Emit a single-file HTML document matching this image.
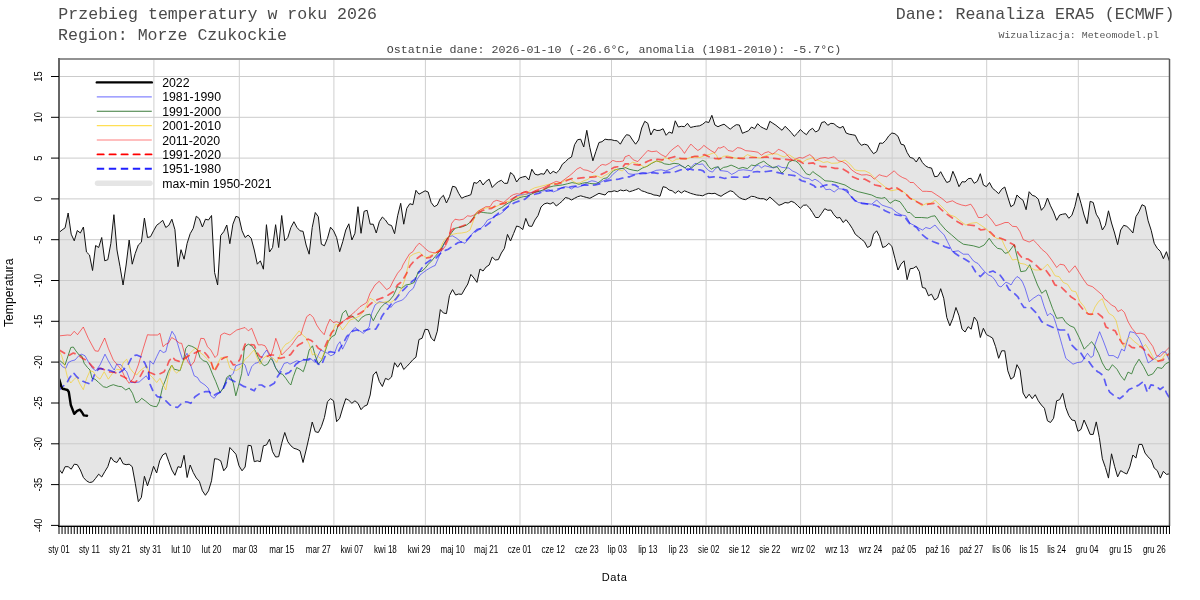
<!DOCTYPE html>
<html><head><meta charset="utf-8"><style>
html,body{margin:0;padding:0;background:#fff;width:1200px;height:600px;overflow:hidden}
svg{display:block;will-change:transform}
text{font-family:"Liberation Sans",sans-serif;fill:#000}
.ax{font-size:10.7px}
.xl{font-size:10.3px}
.lg{font-size:12.3px}
.at{font-size:11px}
.t1{font-family:"Liberation Mono",monospace;font-size:16.6px;fill:#4a4a4a}
.t2{font-family:"Liberation Mono",monospace;font-size:11.66px;fill:#444}
.t3{font-family:"Liberation Mono",monospace;font-size:9.92px;fill:#555}
</style></head><body>
<svg width="1200" height="600" viewBox="0 0 1200 600" fill="none">
<polygon points="59.00,232.5 62.05,230.0 65.10,227.8 68.15,213.0 71.20,234.2 74.25,240.8 77.30,230.5 80.36,233.0 83.41,227.0 86.46,252.0 89.51,255.0 92.56,270.5 95.61,245.5 98.66,247.5 101.71,237.5 104.76,260.8 107.81,259.7 110.86,243.3 113.91,214.7 116.97,250.0 120.02,266.7 123.07,285.0 126.12,265.0 129.17,240.0 132.22,264.2 135.27,253.3 138.32,245.0 141.37,242.2 144.42,218.0 147.47,237.5 150.52,236.7 153.57,230.8 156.63,225.3 159.68,223.0 162.73,220.3 165.78,227.5 168.83,225.3 171.88,219.2 174.93,229.7 177.98,266.7 181.03,249.7 184.08,259.2 187.13,243.3 190.18,233.7 193.24,228.3 196.29,216.2 199.34,218.7 202.39,227.0 205.44,219.2 208.49,220.0 211.54,215.5 214.59,272.5 217.64,285.0 220.69,235.5 223.74,231.7 226.79,225.0 229.84,243.7 232.90,224.2 235.95,216.3 239.00,217.5 242.05,230.8 245.10,237.5 248.15,235.0 251.20,238.3 254.25,250.0 257.30,264.2 260.35,260.8 263.40,269.2 266.45,224.7 269.51,252.0 272.56,247.5 275.61,224.7 278.66,247.5 281.71,215.5 284.76,240.8 287.81,237.5 290.86,227.5 293.91,221.7 296.96,227.5 300.01,230.8 303.06,231.3 306.11,245.0 309.17,254.2 312.22,227.5 315.27,212.5 318.32,216.7 321.37,244.2 324.42,245.8 327.47,238.3 330.52,227.2 333.57,230.8 336.62,237.5 339.67,251.7 342.72,241.7 345.78,230.0 348.83,223.8 351.88,240.0 354.93,233.3 357.98,206.7 361.03,233.3 364.08,211.3 367.13,210.3 370.18,224.2 373.23,224.2 376.28,233.0 379.33,221.7 382.38,217.0 385.44,220.0 388.49,224.5 391.54,225.5 394.59,233.7 397.64,215.8 400.69,203.3 403.74,224.2 406.79,208.3 409.84,203.7 412.89,204.7 415.94,190.3 418.99,194.2 422.05,192.5 425.10,190.8 428.15,192.0 431.20,202.5 434.25,206.7 437.30,205.0 440.35,198.3 443.40,195.3 446.45,203.0 449.50,196.7 452.55,186.3 455.60,187.0 458.65,193.3 461.71,198.3 464.76,196.7 467.81,195.8 470.86,194.7 473.91,182.5 476.96,183.3 480.01,180.0 483.06,185.0 486.11,181.3 489.16,179.2 492.21,187.5 495.26,184.2 498.32,181.7 501.37,180.3 504.42,183.3 507.47,183.3 510.52,172.5 513.57,175.0 516.62,182.0 519.67,178.0 522.72,177.0 525.77,176.3 528.82,180.0 531.87,169.2 534.92,174.2 537.98,175.0 541.03,173.7 544.08,174.2 547.13,169.2 550.18,173.8 553.23,171.3 556.28,173.0 559.33,170.0 562.38,164.2 565.43,161.7 568.48,158.7 571.53,157.0 574.59,144.7 577.64,139.7 580.69,139.2 583.74,147.0 586.79,130.3 589.84,147.5 592.89,160.8 595.94,151.3 598.99,142.5 602.04,141.7 605.09,139.2 608.14,139.7 611.19,139.7 614.25,140.5 617.30,140.8 620.35,144.2 623.40,138.7 626.45,134.7 629.50,135.3 632.55,140.0 635.60,144.2 638.65,140.0 641.70,128.0 644.75,121.3 647.80,123.3 650.86,135.0 653.91,129.2 656.96,130.5 660.01,130.3 663.06,128.7 666.11,135.3 669.16,132.0 672.21,133.3 675.26,120.8 678.31,127.0 681.36,126.3 684.41,126.7 687.46,123.3 690.52,127.5 693.57,126.7 696.62,126.2 699.67,125.8 702.72,124.2 705.77,121.7 708.82,122.5 711.87,115.3 714.92,125.0 717.97,126.7 721.02,125.3 724.07,124.2 727.13,126.7 730.18,129.2 733.23,126.7 736.28,124.7 739.33,125.0 742.38,133.3 745.43,132.0 748.48,130.8 751.53,127.0 754.58,128.7 757.63,123.7 760.68,126.7 763.73,128.3 766.79,129.7 769.84,121.3 772.89,123.3 775.94,125.3 778.99,127.8 782.04,130.3 785.09,126.3 788.14,129.2 791.19,132.5 794.24,136.3 797.29,133.3 800.34,129.5 803.40,132.5 806.45,134.7 809.50,130.3 812.55,128.3 815.60,132.0 818.65,130.3 821.70,122.5 824.75,121.7 827.80,125.3 830.85,123.3 833.90,123.7 836.95,126.3 840.00,128.0 843.06,126.3 846.11,133.0 849.16,134.2 852.21,134.7 855.26,135.3 858.31,141.7 861.36,145.3 864.41,144.2 867.46,145.0 870.51,149.7 873.56,153.7 876.61,151.7 879.67,143.0 882.72,143.3 885.77,140.3 888.82,135.8 891.87,133.0 894.92,133.7 897.97,136.3 901.02,144.2 904.07,145.0 907.12,152.5 910.17,157.5 913.22,158.3 916.27,162.0 919.33,157.0 922.38,162.5 925.43,165.8 928.48,167.5 931.53,168.0 934.58,176.7 937.63,176.3 940.68,171.7 943.73,177.5 946.78,182.5 949.83,181.3 952.88,171.3 955.94,178.3 958.99,186.7 962.04,181.7 965.09,182.0 968.14,178.7 971.19,178.3 974.24,183.3 977.29,181.3 980.34,173.7 983.39,185.0 986.44,186.7 989.49,182.5 992.54,188.3 995.60,190.8 998.65,193.7 1001.70,189.2 1004.75,187.0 1007.80,197.0 1010.85,206.7 1013.90,204.7 1016.95,195.0 1020.00,198.0 1023.05,200.3 1026.10,209.7 1029.15,191.7 1032.21,195.3 1035.26,196.3 1038.31,199.2 1041.36,210.3 1044.41,206.7 1047.46,198.0 1050.51,205.8 1053.56,212.0 1056.61,220.3 1059.66,215.0 1062.71,214.2 1065.76,213.7 1068.81,218.3 1071.87,215.3 1074.92,206.3 1077.97,193.0 1081.02,203.3 1084.07,215.0 1087.12,223.7 1090.17,201.3 1093.22,202.5 1096.27,214.2 1099.32,219.2 1102.37,230.0 1105.42,225.3 1108.48,210.8 1111.53,223.0 1114.58,233.0 1117.63,244.7 1120.68,230.0 1123.73,225.3 1126.78,226.3 1129.83,229.2 1132.88,233.0 1135.93,216.7 1138.98,211.7 1142.03,204.7 1145.08,206.3 1148.14,220.8 1151.19,230.3 1154.24,243.3 1157.29,248.3 1160.34,251.3 1163.39,258.7 1166.44,251.7 1169.49,261.3 1169.49,473.8 1166.44,474.4 1163.39,471.3 1160.34,478.1 1157.29,470.6 1154.24,468.1 1151.19,460.0 1148.14,456.9 1145.08,453.1 1142.03,444.4 1138.98,444.4 1135.93,458.1 1132.88,455.0 1129.83,466.9 1126.78,474.0 1123.73,472.5 1120.68,470.6 1117.63,476.9 1114.58,466.3 1111.53,453.8 1108.48,478.1 1105.42,467.5 1102.37,458.8 1099.32,437.5 1096.27,421.9 1093.22,434.4 1090.17,434.4 1087.12,426.9 1084.07,420.0 1081.02,429.4 1077.97,431.3 1074.92,420.6 1071.87,420.0 1068.81,415.6 1065.76,407.5 1062.71,393.3 1059.66,399.7 1056.61,400.8 1053.56,418.3 1050.51,422.5 1047.46,420.8 1044.41,408.3 1041.36,405.0 1038.31,400.8 1035.26,394.7 1032.21,398.7 1029.15,394.2 1026.10,398.3 1023.05,393.0 1020.00,370.0 1016.95,364.7 1013.90,377.0 1010.85,379.2 1007.80,370.8 1004.75,350.8 1001.70,350.8 998.65,358.3 995.60,346.7 992.54,338.0 989.49,336.3 986.44,334.7 983.39,328.3 980.34,337.5 977.29,321.3 974.24,317.0 971.19,329.2 968.14,326.7 965.09,332.0 962.04,329.2 958.99,315.8 955.94,307.5 952.88,318.3 949.83,325.8 946.78,317.5 943.73,298.3 940.68,288.7 937.63,298.0 934.58,300.0 931.53,294.2 928.48,295.8 925.43,288.3 922.38,287.5 919.33,271.7 916.27,266.3 913.22,268.3 910.17,268.7 907.12,279.7 904.07,260.8 901.02,264.2 897.97,270.0 894.92,258.3 891.87,246.3 888.82,243.3 885.77,246.3 882.72,247.5 879.67,236.7 876.61,230.8 873.56,234.2 870.51,245.8 867.46,247.5 864.41,241.7 861.36,239.2 858.31,236.7 855.26,234.2 852.21,228.3 849.16,223.7 846.11,219.7 843.06,222.5 840.00,217.5 836.95,218.0 833.90,214.7 830.85,210.0 827.80,210.3 824.75,208.7 821.70,213.3 818.65,217.5 815.60,217.5 812.55,212.5 809.50,208.0 806.45,205.0 803.40,205.3 800.34,208.3 797.29,205.3 794.24,202.5 791.19,201.3 788.14,203.0 785.09,202.5 782.04,204.2 778.99,205.3 775.94,202.5 772.89,199.7 769.84,197.0 766.79,200.3 763.73,198.7 760.68,198.7 757.63,198.0 754.58,196.7 751.53,196.3 748.48,198.0 745.43,199.7 742.38,199.0 739.33,197.5 736.28,195.0 733.23,191.7 730.18,190.8 727.13,192.5 724.07,194.2 721.02,196.3 717.97,195.0 714.92,193.3 711.87,193.7 708.82,193.3 705.77,194.2 702.72,195.8 699.67,195.3 696.62,195.0 693.57,194.2 690.52,193.3 687.46,192.0 684.41,190.8 681.36,193.0 678.31,190.8 675.26,193.3 672.21,190.8 669.16,190.0 666.11,187.5 663.06,186.7 660.01,196.3 656.96,195.3 653.91,195.0 650.86,193.7 647.80,193.0 644.75,191.7 641.70,190.8 638.65,188.5 635.60,189.7 632.55,190.8 629.50,191.7 626.45,190.0 623.40,190.8 620.35,190.0 617.30,191.7 614.25,190.8 611.19,191.7 608.14,191.7 605.09,195.0 602.04,194.2 598.99,193.3 595.94,195.0 592.89,196.7 589.84,198.3 586.79,197.5 583.74,196.7 580.69,195.8 577.64,196.7 574.59,198.3 571.53,200.0 568.48,198.3 565.43,197.5 562.38,201.0 559.33,203.6 556.28,206.0 553.23,202.4 550.18,204.0 547.13,203.0 544.08,204.0 541.03,207.0 537.98,215.6 534.92,220.0 531.87,226.4 528.82,226.0 525.77,218.4 522.72,229.6 519.67,227.0 516.62,226.0 513.57,233.6 510.52,241.0 507.47,234.4 504.42,248.4 501.37,253.0 498.32,259.6 495.26,260.0 492.21,257.0 489.16,265.0 486.11,267.0 483.06,271.0 480.01,269.0 476.96,282.4 473.91,278.0 470.86,274.4 467.81,284.0 464.76,289.0 461.71,294.4 458.65,294.0 455.60,295.0 452.55,289.6 449.50,295.5 446.45,313.6 443.40,313.0 440.35,309.6 437.30,331.2 434.25,341.0 431.20,338.0 428.15,329.7 425.10,329.3 422.05,338.3 418.99,339.5 415.94,357.2 412.89,359.7 409.84,363.2 406.79,366.5 403.74,369.5 400.69,362.7 397.64,367.2 394.59,362.7 391.54,377.0 388.49,379.7 385.44,378.4 382.38,386.5 379.33,381.5 376.28,371.7 373.23,375.0 370.18,395.0 367.13,405.0 364.08,406.3 361.03,409.7 357.98,403.3 354.93,400.8 351.88,403.3 348.83,400.3 345.78,398.7 342.72,408.0 339.67,418.3 336.62,421.7 333.57,400.8 330.52,398.7 327.47,401.7 324.42,417.5 321.37,426.7 318.32,432.5 315.27,431.7 312.22,422.0 309.17,436.7 306.11,450.0 303.06,462.5 300.01,450.8 296.96,449.2 293.91,448.3 290.86,445.8 287.81,441.7 284.76,432.5 281.71,443.3 278.66,456.7 275.61,457.0 272.56,451.7 269.51,439.2 266.45,445.0 263.40,445.8 260.35,461.7 257.30,460.8 254.25,461.7 251.20,445.8 248.15,445.3 245.10,467.0 242.05,470.8 239.00,465.8 235.95,454.2 232.90,450.8 229.84,447.5 226.79,467.0 223.74,470.8 220.69,460.8 217.64,459.2 214.59,458.7 211.54,480.8 208.49,490.8 205.44,495.3 202.39,490.8 199.34,481.3 196.29,478.0 193.24,472.5 190.18,465.0 187.13,477.5 184.08,455.3 181.03,467.5 177.98,466.7 174.93,475.3 171.88,470.0 168.83,461.7 165.78,453.0 162.73,455.0 159.68,460.8 156.63,473.0 153.57,466.3 150.52,476.7 147.47,485.8 144.42,476.3 141.37,497.5 138.32,501.7 135.27,483.3 132.22,466.7 129.17,464.2 126.12,464.7 123.07,463.7 120.02,457.5 116.97,462.5 113.91,461.3 110.86,457.2 107.81,466.7 104.76,471.7 101.71,477.0 98.66,474.2 95.61,478.3 92.56,482.0 89.51,482.5 86.46,480.8 83.41,477.5 80.36,470.0 77.30,464.7 74.25,464.2 71.20,469.2 68.15,466.7 65.10,466.7 62.05,473.3 59.00,469.2" fill="#e5e5e5" stroke="none"/>
<line x1="59" y1="76.5" x2="1169.5" y2="76.5" stroke="#cbcbcb" stroke-width="1"/>
<line x1="59" y1="117.3" x2="1169.5" y2="117.3" stroke="#cbcbcb" stroke-width="1"/>
<line x1="59" y1="158.1" x2="1169.5" y2="158.1" stroke="#cbcbcb" stroke-width="1"/>
<line x1="59" y1="198.9" x2="1169.5" y2="198.9" stroke="#cbcbcb" stroke-width="1"/>
<line x1="59" y1="239.7" x2="1169.5" y2="239.7" stroke="#cbcbcb" stroke-width="1"/>
<line x1="59" y1="280.5" x2="1169.5" y2="280.5" stroke="#cbcbcb" stroke-width="1"/>
<line x1="59" y1="321.3" x2="1169.5" y2="321.3" stroke="#cbcbcb" stroke-width="1"/>
<line x1="59" y1="362.1" x2="1169.5" y2="362.1" stroke="#cbcbcb" stroke-width="1"/>
<line x1="59" y1="403.0" x2="1169.5" y2="403.0" stroke="#cbcbcb" stroke-width="1"/>
<line x1="59" y1="443.8" x2="1169.5" y2="443.8" stroke="#cbcbcb" stroke-width="1"/>
<line x1="59" y1="484.6" x2="1169.5" y2="484.6" stroke="#cbcbcb" stroke-width="1"/>
<line x1="59" y1="525.4" x2="1169.5" y2="525.4" stroke="#cbcbcb" stroke-width="1"/>
<line x1="153.9" y1="59" x2="153.9" y2="526" stroke="#cfcfcf" stroke-width="1"/>
<line x1="239.3" y1="59" x2="239.3" y2="526" stroke="#cfcfcf" stroke-width="1"/>
<line x1="333.9" y1="59" x2="333.9" y2="526" stroke="#cfcfcf" stroke-width="1"/>
<line x1="425.4" y1="59" x2="425.4" y2="526" stroke="#cfcfcf" stroke-width="1"/>
<line x1="520.0" y1="59" x2="520.0" y2="526" stroke="#cfcfcf" stroke-width="1"/>
<line x1="611.5" y1="59" x2="611.5" y2="526" stroke="#cfcfcf" stroke-width="1"/>
<line x1="706.1" y1="59" x2="706.1" y2="526" stroke="#cfcfcf" stroke-width="1"/>
<line x1="800.6" y1="59" x2="800.6" y2="526" stroke="#cfcfcf" stroke-width="1"/>
<line x1="892.2" y1="59" x2="892.2" y2="526" stroke="#cfcfcf" stroke-width="1"/>
<line x1="986.7" y1="59" x2="986.7" y2="526" stroke="#cfcfcf" stroke-width="1"/>
<line x1="1078.3" y1="59" x2="1078.3" y2="526" stroke="#cfcfcf" stroke-width="1"/>
<polyline points="59.00,232.5 62.05,230.0 65.10,227.8 68.15,213.0 71.20,234.2 74.25,240.8 77.30,230.5 80.36,233.0 83.41,227.0 86.46,252.0 89.51,255.0 92.56,270.5 95.61,245.5 98.66,247.5 101.71,237.5 104.76,260.8 107.81,259.7 110.86,243.3 113.91,214.7 116.97,250.0 120.02,266.7 123.07,285.0 126.12,265.0 129.17,240.0 132.22,264.2 135.27,253.3 138.32,245.0 141.37,242.2 144.42,218.0 147.47,237.5 150.52,236.7 153.57,230.8 156.63,225.3 159.68,223.0 162.73,220.3 165.78,227.5 168.83,225.3 171.88,219.2 174.93,229.7 177.98,266.7 181.03,249.7 184.08,259.2 187.13,243.3 190.18,233.7 193.24,228.3 196.29,216.2 199.34,218.7 202.39,227.0 205.44,219.2 208.49,220.0 211.54,215.5 214.59,272.5 217.64,285.0 220.69,235.5 223.74,231.7 226.79,225.0 229.84,243.7 232.90,224.2 235.95,216.3 239.00,217.5 242.05,230.8 245.10,237.5 248.15,235.0 251.20,238.3 254.25,250.0 257.30,264.2 260.35,260.8 263.40,269.2 266.45,224.7 269.51,252.0 272.56,247.5 275.61,224.7 278.66,247.5 281.71,215.5 284.76,240.8 287.81,237.5 290.86,227.5 293.91,221.7 296.96,227.5 300.01,230.8 303.06,231.3 306.11,245.0 309.17,254.2 312.22,227.5 315.27,212.5 318.32,216.7 321.37,244.2 324.42,245.8 327.47,238.3 330.52,227.2 333.57,230.8 336.62,237.5 339.67,251.7 342.72,241.7 345.78,230.0 348.83,223.8 351.88,240.0 354.93,233.3 357.98,206.7 361.03,233.3 364.08,211.3 367.13,210.3 370.18,224.2 373.23,224.2 376.28,233.0 379.33,221.7 382.38,217.0 385.44,220.0 388.49,224.5 391.54,225.5 394.59,233.7 397.64,215.8 400.69,203.3 403.74,224.2 406.79,208.3 409.84,203.7 412.89,204.7 415.94,190.3 418.99,194.2 422.05,192.5 425.10,190.8 428.15,192.0 431.20,202.5 434.25,206.7 437.30,205.0 440.35,198.3 443.40,195.3 446.45,203.0 449.50,196.7 452.55,186.3 455.60,187.0 458.65,193.3 461.71,198.3 464.76,196.7 467.81,195.8 470.86,194.7 473.91,182.5 476.96,183.3 480.01,180.0 483.06,185.0 486.11,181.3 489.16,179.2 492.21,187.5 495.26,184.2 498.32,181.7 501.37,180.3 504.42,183.3 507.47,183.3 510.52,172.5 513.57,175.0 516.62,182.0 519.67,178.0 522.72,177.0 525.77,176.3 528.82,180.0 531.87,169.2 534.92,174.2 537.98,175.0 541.03,173.7 544.08,174.2 547.13,169.2 550.18,173.8 553.23,171.3 556.28,173.0 559.33,170.0 562.38,164.2 565.43,161.7 568.48,158.7 571.53,157.0 574.59,144.7 577.64,139.7 580.69,139.2 583.74,147.0 586.79,130.3 589.84,147.5 592.89,160.8 595.94,151.3 598.99,142.5 602.04,141.7 605.09,139.2 608.14,139.7 611.19,139.7 614.25,140.5 617.30,140.8 620.35,144.2 623.40,138.7 626.45,134.7 629.50,135.3 632.55,140.0 635.60,144.2 638.65,140.0 641.70,128.0 644.75,121.3 647.80,123.3 650.86,135.0 653.91,129.2 656.96,130.5 660.01,130.3 663.06,128.7 666.11,135.3 669.16,132.0 672.21,133.3 675.26,120.8 678.31,127.0 681.36,126.3 684.41,126.7 687.46,123.3 690.52,127.5 693.57,126.7 696.62,126.2 699.67,125.8 702.72,124.2 705.77,121.7 708.82,122.5 711.87,115.3 714.92,125.0 717.97,126.7 721.02,125.3 724.07,124.2 727.13,126.7 730.18,129.2 733.23,126.7 736.28,124.7 739.33,125.0 742.38,133.3 745.43,132.0 748.48,130.8 751.53,127.0 754.58,128.7 757.63,123.7 760.68,126.7 763.73,128.3 766.79,129.7 769.84,121.3 772.89,123.3 775.94,125.3 778.99,127.8 782.04,130.3 785.09,126.3 788.14,129.2 791.19,132.5 794.24,136.3 797.29,133.3 800.34,129.5 803.40,132.5 806.45,134.7 809.50,130.3 812.55,128.3 815.60,132.0 818.65,130.3 821.70,122.5 824.75,121.7 827.80,125.3 830.85,123.3 833.90,123.7 836.95,126.3 840.00,128.0 843.06,126.3 846.11,133.0 849.16,134.2 852.21,134.7 855.26,135.3 858.31,141.7 861.36,145.3 864.41,144.2 867.46,145.0 870.51,149.7 873.56,153.7 876.61,151.7 879.67,143.0 882.72,143.3 885.77,140.3 888.82,135.8 891.87,133.0 894.92,133.7 897.97,136.3 901.02,144.2 904.07,145.0 907.12,152.5 910.17,157.5 913.22,158.3 916.27,162.0 919.33,157.0 922.38,162.5 925.43,165.8 928.48,167.5 931.53,168.0 934.58,176.7 937.63,176.3 940.68,171.7 943.73,177.5 946.78,182.5 949.83,181.3 952.88,171.3 955.94,178.3 958.99,186.7 962.04,181.7 965.09,182.0 968.14,178.7 971.19,178.3 974.24,183.3 977.29,181.3 980.34,173.7 983.39,185.0 986.44,186.7 989.49,182.5 992.54,188.3 995.60,190.8 998.65,193.7 1001.70,189.2 1004.75,187.0 1007.80,197.0 1010.85,206.7 1013.90,204.7 1016.95,195.0 1020.00,198.0 1023.05,200.3 1026.10,209.7 1029.15,191.7 1032.21,195.3 1035.26,196.3 1038.31,199.2 1041.36,210.3 1044.41,206.7 1047.46,198.0 1050.51,205.8 1053.56,212.0 1056.61,220.3 1059.66,215.0 1062.71,214.2 1065.76,213.7 1068.81,218.3 1071.87,215.3 1074.92,206.3 1077.97,193.0 1081.02,203.3 1084.07,215.0 1087.12,223.7 1090.17,201.3 1093.22,202.5 1096.27,214.2 1099.32,219.2 1102.37,230.0 1105.42,225.3 1108.48,210.8 1111.53,223.0 1114.58,233.0 1117.63,244.7 1120.68,230.0 1123.73,225.3 1126.78,226.3 1129.83,229.2 1132.88,233.0 1135.93,216.7 1138.98,211.7 1142.03,204.7 1145.08,206.3 1148.14,220.8 1151.19,230.3 1154.24,243.3 1157.29,248.3 1160.34,251.3 1163.39,258.7 1166.44,251.7 1169.49,261.3" stroke="#111" stroke-width="1" stroke-linejoin="round"/>
<polyline points="59.00,469.2 62.05,473.3 65.10,466.7 68.15,466.7 71.20,469.2 74.25,464.2 77.30,464.7 80.36,470.0 83.41,477.5 86.46,480.8 89.51,482.5 92.56,482.0 95.61,478.3 98.66,474.2 101.71,477.0 104.76,471.7 107.81,466.7 110.86,457.2 113.91,461.3 116.97,462.5 120.02,457.5 123.07,463.7 126.12,464.7 129.17,464.2 132.22,466.7 135.27,483.3 138.32,501.7 141.37,497.5 144.42,476.3 147.47,485.8 150.52,476.7 153.57,466.3 156.63,473.0 159.68,460.8 162.73,455.0 165.78,453.0 168.83,461.7 171.88,470.0 174.93,475.3 177.98,466.7 181.03,467.5 184.08,455.3 187.13,477.5 190.18,465.0 193.24,472.5 196.29,478.0 199.34,481.3 202.39,490.8 205.44,495.3 208.49,490.8 211.54,480.8 214.59,458.7 217.64,459.2 220.69,460.8 223.74,470.8 226.79,467.0 229.84,447.5 232.90,450.8 235.95,454.2 239.00,465.8 242.05,470.8 245.10,467.0 248.15,445.3 251.20,445.8 254.25,461.7 257.30,460.8 260.35,461.7 263.40,445.8 266.45,445.0 269.51,439.2 272.56,451.7 275.61,457.0 278.66,456.7 281.71,443.3 284.76,432.5 287.81,441.7 290.86,445.8 293.91,448.3 296.96,449.2 300.01,450.8 303.06,462.5 306.11,450.0 309.17,436.7 312.22,422.0 315.27,431.7 318.32,432.5 321.37,426.7 324.42,417.5 327.47,401.7 330.52,398.7 333.57,400.8 336.62,421.7 339.67,418.3 342.72,408.0 345.78,398.7 348.83,400.3 351.88,403.3 354.93,400.8 357.98,403.3 361.03,409.7 364.08,406.3 367.13,405.0 370.18,395.0 373.23,375.0 376.28,371.7 379.33,381.5 382.38,386.5 385.44,378.4 388.49,379.7 391.54,377.0 394.59,362.7 397.64,367.2 400.69,362.7 403.74,369.5 406.79,366.5 409.84,363.2 412.89,359.7 415.94,357.2 418.99,339.5 422.05,338.3 425.10,329.3 428.15,329.7 431.20,338.0 434.25,341.0 437.30,331.2 440.35,309.6 443.40,313.0 446.45,313.6 449.50,295.5 452.55,289.6 455.60,295.0 458.65,294.0 461.71,294.4 464.76,289.0 467.81,284.0 470.86,274.4 473.91,278.0 476.96,282.4 480.01,269.0 483.06,271.0 486.11,267.0 489.16,265.0 492.21,257.0 495.26,260.0 498.32,259.6 501.37,253.0 504.42,248.4 507.47,234.4 510.52,241.0 513.57,233.6 516.62,226.0 519.67,227.0 522.72,229.6 525.77,218.4 528.82,226.0 531.87,226.4 534.92,220.0 537.98,215.6 541.03,207.0 544.08,204.0 547.13,203.0 550.18,204.0 553.23,202.4 556.28,206.0 559.33,203.6 562.38,201.0 565.43,197.5 568.48,198.3 571.53,200.0 574.59,198.3 577.64,196.7 580.69,195.8 583.74,196.7 586.79,197.5 589.84,198.3 592.89,196.7 595.94,195.0 598.99,193.3 602.04,194.2 605.09,195.0 608.14,191.7 611.19,191.7 614.25,190.8 617.30,191.7 620.35,190.0 623.40,190.8 626.45,190.0 629.50,191.7 632.55,190.8 635.60,189.7 638.65,188.5 641.70,190.8 644.75,191.7 647.80,193.0 650.86,193.7 653.91,195.0 656.96,195.3 660.01,196.3 663.06,186.7 666.11,187.5 669.16,190.0 672.21,190.8 675.26,193.3 678.31,190.8 681.36,193.0 684.41,190.8 687.46,192.0 690.52,193.3 693.57,194.2 696.62,195.0 699.67,195.3 702.72,195.8 705.77,194.2 708.82,193.3 711.87,193.7 714.92,193.3 717.97,195.0 721.02,196.3 724.07,194.2 727.13,192.5 730.18,190.8 733.23,191.7 736.28,195.0 739.33,197.5 742.38,199.0 745.43,199.7 748.48,198.0 751.53,196.3 754.58,196.7 757.63,198.0 760.68,198.7 763.73,198.7 766.79,200.3 769.84,197.0 772.89,199.7 775.94,202.5 778.99,205.3 782.04,204.2 785.09,202.5 788.14,203.0 791.19,201.3 794.24,202.5 797.29,205.3 800.34,208.3 803.40,205.3 806.45,205.0 809.50,208.0 812.55,212.5 815.60,217.5 818.65,217.5 821.70,213.3 824.75,208.7 827.80,210.3 830.85,210.0 833.90,214.7 836.95,218.0 840.00,217.5 843.06,222.5 846.11,219.7 849.16,223.7 852.21,228.3 855.26,234.2 858.31,236.7 861.36,239.2 864.41,241.7 867.46,247.5 870.51,245.8 873.56,234.2 876.61,230.8 879.67,236.7 882.72,247.5 885.77,246.3 888.82,243.3 891.87,246.3 894.92,258.3 897.97,270.0 901.02,264.2 904.07,260.8 907.12,279.7 910.17,268.7 913.22,268.3 916.27,266.3 919.33,271.7 922.38,287.5 925.43,288.3 928.48,295.8 931.53,294.2 934.58,300.0 937.63,298.0 940.68,288.7 943.73,298.3 946.78,317.5 949.83,325.8 952.88,318.3 955.94,307.5 958.99,315.8 962.04,329.2 965.09,332.0 968.14,326.7 971.19,329.2 974.24,317.0 977.29,321.3 980.34,337.5 983.39,328.3 986.44,334.7 989.49,336.3 992.54,338.0 995.60,346.7 998.65,358.3 1001.70,350.8 1004.75,350.8 1007.80,370.8 1010.85,379.2 1013.90,377.0 1016.95,364.7 1020.00,370.0 1023.05,393.0 1026.10,398.3 1029.15,394.2 1032.21,398.7 1035.26,394.7 1038.31,400.8 1041.36,405.0 1044.41,408.3 1047.46,420.8 1050.51,422.5 1053.56,418.3 1056.61,400.8 1059.66,399.7 1062.71,393.3 1065.76,407.5 1068.81,415.6 1071.87,420.0 1074.92,420.6 1077.97,431.3 1081.02,429.4 1084.07,420.0 1087.12,426.9 1090.17,434.4 1093.22,434.4 1096.27,421.9 1099.32,437.5 1102.37,458.8 1105.42,467.5 1108.48,478.1 1111.53,453.8 1114.58,466.3 1117.63,476.9 1120.68,470.6 1123.73,472.5 1126.78,474.0 1129.83,466.9 1132.88,455.0 1135.93,458.1 1138.98,444.4 1142.03,444.4 1145.08,453.1 1148.14,456.9 1151.19,460.0 1154.24,468.1 1157.29,470.6 1160.34,478.1 1163.39,471.3 1166.44,474.4 1169.49,473.8" stroke="#111" stroke-width="1" stroke-linejoin="round"/>
<polyline points="59.2,362.5 62.5,366.7 65.8,368.3 68.3,362.5 71.7,360.8 75.0,360.0 79.2,355.3 81.7,354.2 85.0,355.8 88.3,361.7 92.5,368.3 95.8,370.8 100.0,365.0 105.0,354.2 108.3,360.8 111.7,366.7 114.2,370.0 116.7,364.2 120.8,364.7 124.2,369.2 126.7,371.7 130.8,382.5 135.0,382.5 139.2,382.0 143.3,378.3 146.3,375.8 148.7,380.0 150.0,360.8 153.3,364.2 156.7,356.7 160.0,350.0 163.3,352.5 165.8,351.7 168.3,341.7 172.0,331.3 175.0,335.8 177.5,343.3 180.0,351.7 182.5,359.2 184.2,358.3 187.0,353.3 189.2,360.8 191.7,368.3 194.2,375.8 197.5,377.5 200.0,381.7 205.0,385.0 208.3,388.3 210.8,395.8 214.2,398.3 216.7,395.0 220.0,392.5 223.3,387.5 227.5,378.3 230.8,375.8 233.3,373.3 235.8,365.8 240.0,364.2 243.3,363.3 245.0,365.0 248.3,375.8 251.7,366.7 255.0,363.3 258.3,362.5 261.7,357.5 264.2,353.3 266.7,350.0 269.2,355.0 271.7,357.5 275.0,366.7 278.3,371.7 280.8,370.0 284.2,363.3 287.5,362.5 290.0,364.2 293.3,362.5 296.7,360.8 300.0,361.7 303.3,360.0 306.7,359.2 310.0,358.3 312.5,360.0 315.0,362.5 318.3,355.0 320.8,350.0 324.2,351.7 327.5,353.3 330.8,355.8 334.2,354.2 337.5,345.0 340.0,341.7 342.5,349.2 346.7,340.8 350.0,333.3 355.0,327.5 358.3,330.0 363.3,333.3 366.7,330.0 369.2,326.7 371.7,313.3 375.0,305.0 379.2,301.7 383.3,302.5 387.5,304.2 390.8,307.5 394.2,303.3 397.5,301.7 402.5,300.0 405.8,296.7 409.2,291.7 413.3,288.3 416.7,280.0 420.0,275.0 423.3,272.5 426.7,270.0 430.8,267.5 434.2,265.8 435.0,265.8 438.3,258.3 441.7,250.0 445.0,241.7 448.3,236.7 452.5,235.8 456.7,238.3 460.8,241.7 465.0,243.3 468.3,239.2 472.5,233.3 476.7,229.2 480.8,228.3 484.2,225.0 487.5,220.0 491.7,218.3 495.8,215.8 500.0,214.2 503.3,211.7 506.7,208.3 510.0,203.3 513.3,198.3 516.7,195.8 520.0,195.0 523.3,194.7 526.7,194.2 530.0,193.1 534.7,191.9 539.3,191.3 544.0,190.8 548.7,189.6 553.3,191.9 558.0,190.2 561.5,187.8 565.0,186.7 568.5,187.3 571.4,189.0 574.9,186.7 577.8,187.3 581.3,186.1 584.8,184.3 588.3,182.0 591.8,180.8 595.3,181.4 598.8,183.2 602.3,181.4 605.8,179.7 609.3,178.5 612.8,174.4 616.3,171.5 619.8,168.6 623.3,168.6 625.0,169.8 628.5,173.8 633.2,174.4 637.8,173.8 642.5,172.7 647.2,173.3 651.8,172.1 656.5,170.3 661.2,169.8 665.8,170.9 670.5,169.2 675.2,166.8 679.8,165.1 683.9,166.8 688.0,170.9 692.1,166.3 695.0,163.3 699.1,164.5 702.6,163.9 705.5,167.4 709.0,170.9 712.5,172.1 715.4,168.6 718.3,166.8 720.0,170.6 723.5,170.9 727.6,171.5 731.7,174.4 735.2,172.7 738.7,170.3 743.3,169.8 748.0,170.3 751.5,170.9 755.0,166.3 758.5,165.1 761.4,167.8 764.9,165.7 769.0,166.8 773.7,168.0 778.3,165.7 781.8,167.4 785.3,167.8 788.8,168.0 792.3,170.9 796.4,172.7 800.5,175.6 804.0,177.9 808.7,178.5 812.2,180.8 815.0,179.2 819.2,181.7 822.5,185.0 825.8,189.7 830.0,189.2 834.2,192.0 838.3,188.7 843.3,189.2 848.3,193.3 852.5,198.3 858.3,202.5 865.0,203.3 871.7,204.2 876.7,200.0 881.7,205.0 886.7,206.7 891.7,208.3 896.7,212.5 901.7,215.0 905.8,215.8 910.0,223.3 915.0,225.8 919.2,228.3 922.5,230.0 925.8,227.5 930.0,228.7 935.0,225.0 939.2,230.0 944.2,235.0 947.5,241.7 952.5,251.7 958.3,250.8 963.3,254.2 968.3,254.2 973.3,260.8 975.0,262.0 978.0,263.5 981.5,268.0 985.0,272.0 988.5,275.0 992.0,276.5 995.0,280.0 998.5,286.0 1001.0,287.0 1004.0,284.0 1006.0,282.2 1009.0,283.5 1011.0,285.0 1014.0,280.0 1017.0,276.5 1020.0,278.5 1022.5,282.0 1025.0,288.0 1029.2,301.7 1033.3,298.3 1038.3,295.0 1040.8,295.8 1044.2,306.7 1047.5,315.8 1050.0,313.3 1053.3,315.8 1055.8,323.3 1059.2,335.0 1062.5,346.7 1065.8,358.3 1070.0,361.7 1073.0,364.2 1077.5,362.5 1081.7,362.0 1084.2,358.3 1087.5,353.3 1090.8,357.5 1093.3,355.8 1095.0,344.5 1099.6,331.7 1103.3,340.9 1108.8,355.6 1113.3,355.6 1117.9,358.3 1121.6,349.1 1124.4,351.0 1129.9,331.7 1134.4,332.6 1139.0,338.1 1142.7,346.4 1148.2,362.9 1153.7,359.2 1157.4,356.5 1162.0,351.9 1165.6,351.9 1169.3,360.1" stroke="#0000ff" stroke-opacity="0.5" stroke-width="1" stroke-linejoin="round"/>
<polyline points="59.2,360.0 65.0,365.0 70.8,347.5 73.3,347.0 75.8,350.8 79.2,355.0 81.7,355.8 84.2,363.3 87.5,367.5 90.0,370.0 92.0,378.3 95.0,379.2 98.7,382.5 103.3,386.7 106.7,387.5 110.0,385.8 113.3,384.7 118.3,386.3 121.7,386.7 125.8,390.0 129.2,388.0 132.5,393.3 135.8,402.5 138.3,402.0 141.7,398.3 145.8,401.3 149.2,404.2 150.0,405.0 153.3,406.3 156.7,406.7 159.2,401.7 160.8,395.0 162.5,387.5 165.8,379.2 168.3,371.7 171.7,365.0 174.2,369.2 177.5,370.0 180.0,370.8 183.3,360.8 185.8,348.3 188.3,345.3 191.7,346.3 194.2,347.5 197.5,350.0 200.0,357.5 203.3,360.8 206.7,361.7 209.2,365.8 212.5,374.2 215.8,381.7 220.0,392.5 223.3,388.3 226.7,377.5 230.0,375.0 233.3,383.3 235.8,395.8 238.3,386.7 241.7,373.3 244.2,350.0 245.0,346.7 248.3,344.2 251.7,345.8 255.0,350.0 258.3,357.5 261.7,363.3 264.2,365.8 267.5,364.2 270.8,358.3 273.3,361.7 275.8,368.3 279.2,373.3 282.5,374.2 285.8,378.3 289.2,383.3 290.8,385.0 293.3,376.7 296.7,367.5 300.0,369.2 303.3,371.7 305.8,364.2 309.2,350.0 312.5,345.8 315.0,355.0 318.3,364.2 321.7,360.0 325.0,351.7 328.3,341.7 331.7,336.7 335.0,335.0 338.3,325.0 340.0,322.5 342.5,313.3 345.8,310.3 348.3,316.7 351.7,315.8 355.0,318.3 358.3,321.7 361.7,317.5 365.8,315.0 370.0,314.2 373.3,320.8 376.7,314.2 380.8,307.5 385.0,303.3 389.2,300.8 393.3,295.8 397.5,286.7 401.7,288.3 405.8,285.0 410.0,284.2 414.2,282.5 418.3,271.7 421.7,271.3 425.0,268.3 428.3,264.2 431.7,260.8 435.0,256.7 440.0,250.8 444.2,243.3 448.3,237.5 451.7,232.5 455.0,228.3 458.3,227.5 462.5,226.7 466.7,225.0 470.8,221.7 475.0,215.0 479.2,211.7 483.3,212.5 487.5,213.0 491.7,213.3 495.0,211.3 498.3,209.2 501.7,207.5 505.0,205.0 509.2,202.5 512.5,200.8 516.7,199.2 520.0,197.5 523.3,196.7 526.7,196.3 530.0,194.8 534.7,192.5 539.3,191.3 544.0,189.6 548.7,187.3 553.3,186.1 558.0,185.5 562.7,184.9 567.3,183.8 572.0,182.6 575.5,183.2 579.0,184.3 582.5,183.2 586.0,182.6 589.5,183.4 593.0,183.8 596.5,183.8 600.0,181.4 603.5,178.5 607.0,177.9 610.5,173.8 614.0,170.3 617.5,169.2 621.0,168.6 624.5,168.0 625.0,167.4 629.1,169.2 633.8,170.3 637.8,170.9 642.5,168.0 647.2,166.3 651.8,163.3 656.5,161.0 661.2,162.2 664.7,163.9 669.3,164.5 674.0,163.3 678.7,163.9 682.2,166.3 685.1,168.0 688.0,165.1 691.5,168.0 695.0,165.1 698.5,162.8 702.6,160.4 705.5,161.6 708.4,166.3 711.3,169.2 714.8,167.4 718.3,166.8 720.0,169.8 723.5,167.4 727.0,166.8 731.1,165.1 735.2,166.8 738.7,168.6 742.8,167.4 747.4,168.6 751.5,165.1 755.0,165.7 759.1,163.3 763.8,161.2 767.8,164.5 772.5,167.4 777.2,166.8 781.8,173.3 785.9,169.2 788.8,162.2 792.3,160.4 795.8,161.0 799.3,163.9 802.8,169.2 806.3,173.8 809.8,175.0 812.8,171.5 815.0,173.3 820.0,176.7 825.0,180.8 831.7,181.3 838.3,183.0 845.0,185.0 851.7,189.2 858.3,191.7 865.0,193.3 871.7,195.0 876.7,197.5 881.7,198.3 885.0,197.5 890.0,203.3 895.0,200.0 900.0,201.7 904.2,207.5 907.5,212.5 910.0,212.5 915.0,217.5 921.7,217.5 927.5,218.0 931.7,216.3 935.0,215.8 940.0,223.3 945.8,230.0 951.7,235.0 958.3,240.8 963.3,244.2 968.3,245.0 973.3,245.8 979.2,247.5 984.2,245.0 989.2,238.3 993.3,244.2 997.5,248.3 1001.7,249.2 1005.0,253.3 1008.3,252.5 1014.2,244.7 1017.5,258.3 1020.8,271.7 1025.8,270.8 1029.7,264.7 1033.3,274.2 1037.5,285.0 1041.7,293.3 1045.8,290.0 1049.2,299.2 1052.5,308.3 1056.7,318.3 1062.5,317.5 1065.8,322.5 1070.0,325.8 1074.2,327.5 1079.2,337.5 1084.2,349.2 1088.3,345.0 1091.7,341.7 1095.0,346.4 1098.7,353.7 1102.3,362.9 1106.0,369.3 1108.8,370.2 1112.4,364.7 1117.0,369.3 1120.7,375.7 1124.4,380.3 1128.0,372.1 1131.7,373.9 1134.4,366.6 1139.0,359.2 1143.6,366.6 1148.2,375.7 1152.8,373.9 1157.4,367.5 1162.0,368.4 1165.6,363.8 1169.3,362.0" stroke="#2f7a2f" stroke-opacity="0.85" stroke-width="1" stroke-linejoin="round"/>
<polyline points="59.2,350.8 61.7,355.8 65.0,366.7 67.5,377.5 70.8,383.0 73.3,380.0 76.7,377.0 80.0,384.2 83.3,389.7 86.7,378.3 90.0,370.8 93.3,371.7 96.7,376.7 100.0,379.2 104.2,371.7 108.3,379.2 112.5,373.3 116.7,369.2 120.8,370.0 123.3,362.5 126.7,359.2 130.0,368.3 133.3,372.5 136.7,375.0 140.0,370.8 143.3,368.3 146.7,365.8 150.0,375.0 152.5,377.5 156.7,382.5 160.0,378.3 163.3,385.0 165.8,390.0 168.3,376.7 171.7,365.0 174.2,370.8 176.7,373.0 180.0,370.0 183.3,361.7 187.5,355.8 191.7,351.7 195.8,347.5 200.0,352.5 203.3,355.0 207.5,359.2 210.8,362.5 214.2,370.0 217.5,364.2 220.8,357.5 224.2,358.3 226.7,357.5 230.0,368.3 233.3,370.0 236.7,370.3 240.0,368.3 242.5,364.2 245.0,359.2 248.3,356.7 251.7,352.5 254.2,350.0 256.7,356.7 260.0,364.2 263.3,358.3 266.7,355.8 270.0,357.5 273.3,358.3 276.7,362.5 280.0,355.0 282.5,348.3 285.8,344.2 289.2,342.5 292.5,339.2 295.8,335.0 299.2,330.8 302.5,335.0 305.8,337.5 309.2,344.2 312.5,355.0 315.0,353.3 318.3,356.7 321.7,359.2 325.0,350.0 328.3,341.7 331.7,333.3 335.8,324.2 339.2,325.0 340.0,325.8 342.5,330.0 345.8,325.8 350.0,320.0 355.0,318.3 360.0,315.8 365.0,309.2 370.0,298.3 373.3,300.0 376.7,303.3 381.7,302.5 386.7,301.7 390.8,302.5 394.2,300.0 397.5,295.8 401.7,288.3 405.0,279.2 407.5,268.3 408.3,265.0 409.6,256.7 413.3,254.2 415.8,253.3 419.2,252.1 421.7,254.2 424.2,256.7 426.7,257.5 430.0,255.8 433.3,253.8 436.7,252.5 439.2,250.8 440.8,247.5 442.9,242.5 445.0,239.2 447.5,237.5 450.8,235.0 453.3,234.2 457.5,233.3 461.7,233.0 466.7,232.0 470.0,230.0 472.5,223.3 475.0,215.8 478.3,210.8 481.7,209.2 485.0,208.3 488.3,207.5 492.5,207.5 495.8,206.7 499.2,205.0 503.3,203.3 506.7,201.7 510.8,200.8 515.0,198.3 519.2,196.7 523.3,195.0 527.5,193.3 530.0,190.2 534.7,187.8 539.3,186.7 544.0,185.5 548.7,184.3 553.3,183.8 558.0,183.2 562.7,182.0 566.2,179.7 570.3,179.1 573.2,181.4 576.7,183.2 580.2,182.6 583.7,180.8 587.2,179.7 590.7,177.3 594.2,175.6 597.7,176.2 601.2,177.9 604.7,175.6 608.2,173.8 611.7,170.9 615.2,169.2 618.7,169.8 622.2,170.9 625.0,168.6 628.5,165.1 632.6,162.2 636.7,163.3 640.8,165.1 644.8,167.4 648.9,164.5 653.0,162.2 656.5,161.0 660.6,162.2 664.7,157.5 668.2,158.7 672.3,161.6 676.3,159.3 681.0,158.7 685.7,159.3 690.3,157.5 695.0,156.9 699.7,157.5 704.3,155.8 709.0,154.6 713.7,152.8 716.6,155.2 718.3,159.8 720.0,158.7 723.5,156.3 727.6,155.8 731.1,156.9 735.2,158.1 739.3,158.7 743.3,157.5 747.4,154.6 751.5,156.3 756.2,157.5 760.3,158.1 764.3,156.3 769.0,154.6 773.1,153.8 777.2,154.0 780.7,155.8 784.2,156.9 788.8,154.6 792.3,156.9 795.8,159.3 799.3,159.8 802.8,162.2 806.3,159.8 809.8,158.7 813.3,157.5 815.0,160.0 820.0,160.8 823.3,162.5 827.5,161.7 831.7,163.3 837.5,163.0 840.8,161.7 845.0,160.0 850.0,164.2 855.0,170.0 860.0,170.8 865.0,170.8 870.0,173.3 873.3,176.7 877.5,180.8 881.7,184.2 885.8,187.5 890.8,190.8 895.0,190.0 899.2,189.2 903.3,191.7 907.5,195.0 910.0,198.3 915.0,200.0 921.7,205.8 926.7,203.3 930.8,203.3 935.0,200.3 940.0,205.0 945.0,210.0 950.0,215.0 955.0,216.7 960.0,220.8 965.8,225.0 970.8,223.3 976.7,222.5 981.7,225.8 986.7,229.2 991.7,235.0 996.7,238.3 1001.7,239.2 1005.0,246.7 1008.3,252.5 1012.5,260.0 1016.7,259.2 1020.0,263.3 1025.0,264.2 1030.0,267.5 1035.0,270.0 1041.7,270.0 1047.5,264.2 1051.7,270.0 1055.0,275.8 1059.2,276.7 1063.3,282.5 1067.5,284.2 1071.7,290.8 1075.8,291.7 1080.0,301.7 1084.2,306.7 1086.7,311.7 1090.0,315.0 1091.7,315.0 1095.0,306.9 1098.7,301.4 1102.3,298.7 1105.1,306.0 1108.8,313.3 1113.3,316.1 1116.1,320.7 1118.9,331.7 1122.2,343.6 1124.4,347.3 1127.1,339.0 1129.9,337.2 1133.5,340.9 1138.1,344.5 1141.8,348.2 1145.5,344.5 1149.1,350.0 1153.7,358.3 1158.3,361.1 1162.0,359.2 1165.6,353.7 1169.3,356.5" stroke="#f5cc10" stroke-opacity="0.6" stroke-width="1" stroke-linejoin="round"/>
<polyline points="60.0,335.8 67.5,335.0 70.8,335.3 74.2,331.3 77.5,334.7 83.3,327.0 88.3,338.3 95.0,350.8 98.3,351.3 104.7,338.0 108.3,348.3 113.3,360.0 117.5,365.0 121.7,370.0 125.0,377.5 129.2,383.3 133.3,378.3 138.3,365.0 143.3,348.3 147.5,334.7 150.0,335.0 157.5,335.0 160.0,333.3 163.0,346.7 165.8,344.2 168.3,343.3 171.7,337.5 175.8,340.0 179.2,343.0 181.7,343.3 185.0,355.0 188.3,362.5 190.8,365.8 194.2,361.7 197.5,350.0 200.8,338.3 204.2,338.7 207.5,346.7 210.8,350.0 215.0,357.5 217.5,355.0 220.8,335.0 224.2,333.0 230.0,335.0 233.3,332.5 236.7,330.0 245.0,327.5 248.3,330.8 251.7,328.3 255.0,336.7 258.3,345.0 261.7,344.7 265.0,345.8 268.3,351.7 270.8,355.8 273.3,348.3 275.8,338.3 278.3,345.0 281.7,355.0 285.0,351.7 288.3,348.3 291.7,345.0 295.0,340.0 298.3,335.8 300.8,335.0 303.3,326.7 306.7,316.7 310.0,314.2 313.3,317.5 316.7,325.0 320.0,330.0 324.2,334.7 326.7,326.7 330.0,319.2 333.3,322.5 336.7,321.7 340.0,323.3 345.0,320.0 350.0,315.8 355.0,311.7 360.0,306.7 366.7,302.5 370.0,293.3 375.0,285.0 379.2,281.3 383.3,285.8 386.7,289.7 390.0,287.5 393.3,280.8 397.5,273.3 401.7,268.3 402.9,265.0 405.8,260.0 409.6,253.8 412.9,251.7 415.8,247.0 419.2,243.2 422.5,245.8 425.8,249.2 429.2,251.7 432.5,252.5 435.8,252.9 439.2,251.7 442.5,250.0 445.8,245.4 448.3,240.0 451.7,223.3 455.0,219.2 459.2,220.0 463.3,219.2 467.5,215.8 470.8,216.3 474.2,215.0 477.5,211.7 481.7,209.2 485.8,206.7 490.0,206.7 493.3,201.7 496.7,200.3 500.0,201.3 503.3,202.5 506.7,200.0 510.0,196.7 513.3,194.7 516.7,193.7 520.0,194.2 523.3,192.0 526.7,191.3 530.0,193.1 534.7,190.8 539.3,189.0 544.0,187.3 548.7,184.9 553.3,182.6 556.3,181.4 560.3,182.6 565.0,179.1 569.7,175.6 573.2,172.7 576.7,169.2 580.2,167.4 583.7,169.8 587.2,170.3 590.1,171.5 593.0,172.7 596.5,169.2 600.0,165.7 602.3,164.5 605.8,165.1 609.3,163.3 612.8,160.4 616.3,161.6 619.8,161.6 623.3,161.0 625.0,156.9 629.1,155.2 633.2,159.8 637.8,161.6 642.5,156.3 647.8,150.5 651.8,151.7 656.5,151.1 661.2,154.6 665.8,156.9 670.5,151.1 674.0,148.2 678.1,145.3 681.6,149.3 684.5,153.4 687.4,148.8 690.9,144.1 694.4,147.6 697.9,150.5 701.4,148.2 703.8,145.3 706.7,147.6 710.8,150.5 714.8,152.8 718.3,147.6 720.0,148.2 724.1,146.4 728.2,150.5 732.8,151.4 737.5,147.6 741.0,148.2 745.7,150.7 750.3,151.1 755.0,151.7 757.9,152.3 761.4,155.2 764.9,152.8 768.4,151.7 772.5,154.0 774.8,152.8 778.3,149.3 781.8,150.7 785.3,152.8 788.8,156.9 792.9,160.4 796.4,158.7 799.3,157.5 802.8,158.1 806.3,156.3 809.8,154.6 813.3,157.5 815.0,160.8 820.0,158.3 825.0,157.5 828.3,158.3 834.2,156.7 838.3,160.8 842.5,161.7 846.7,164.2 851.7,170.0 856.7,173.3 861.7,175.0 866.7,174.7 870.8,175.8 874.2,179.2 879.2,174.7 882.5,175.8 886.7,176.7 890.0,174.2 894.2,170.8 898.3,175.0 902.5,177.5 906.7,179.2 910.0,182.5 913.3,182.5 917.5,186.7 922.5,191.3 926.7,191.3 931.7,191.7 936.7,195.0 941.7,198.3 946.7,202.5 952.5,200.8 956.7,203.3 961.7,205.0 965.8,205.8 970.8,204.2 974.2,209.2 978.3,217.5 982.5,217.5 986.7,214.2 991.7,220.0 995.8,225.8 1000.8,224.2 1005.0,222.5 1008.3,222.5 1012.5,226.3 1016.7,226.7 1020.0,231.7 1023.3,239.7 1029.2,242.0 1033.3,240.0 1037.5,244.2 1041.7,249.2 1046.7,253.3 1051.7,260.0 1056.7,267.5 1060.0,264.2 1064.2,265.0 1069.2,272.5 1075.0,265.8 1079.2,272.5 1083.3,279.2 1087.5,285.0 1092.5,286.7 1102.3,295.0 1104.2,298.7 1107.8,301.4 1111.5,305.1 1115.2,306.9 1117.9,311.5 1121.6,309.7 1124.4,312.4 1128.0,321.6 1131.7,328.0 1136.3,333.5 1140.9,333.2 1144.5,334.4 1148.2,340.0 1152.8,346.4 1156.5,355.6 1160.1,356.5 1164.7,351.9 1169.3,347.3" stroke="#ff0000" stroke-opacity="0.55" stroke-width="1" stroke-linejoin="round"/>
<polyline points="59.2,350.0 63.3,352.5 68.3,355.8 73.3,353.0 78.3,355.0 82.5,358.3 87.5,360.8 91.7,365.8 95.8,370.0 100.8,368.3 105.0,370.0 110.0,372.0 115.0,372.5 120.0,375.0 125.0,377.5 130.0,380.8 135.0,382.5 139.2,378.3 143.3,370.8 148.3,371.7 150.0,372.5 155.0,374.7 160.0,373.7 164.2,371.7 167.5,365.0 169.2,360.8 172.5,356.7 175.0,360.0 180.0,361.7 185.0,358.3 190.0,355.0 194.2,353.3 199.2,350.8 203.3,350.8 207.5,355.8 210.8,360.8 214.2,371.7 217.5,365.8 220.8,360.0 224.2,357.5 227.5,356.7 230.0,360.0 233.3,365.0 236.7,364.2 240.0,359.2 243.3,349.2 245.0,344.2 248.3,344.2 254.2,345.0 257.5,353.3 260.0,356.7 263.3,357.5 266.7,356.7 270.0,355.0 273.3,355.0 276.7,357.5 280.0,358.3 283.3,357.5 287.5,356.7 290.8,354.2 295.0,348.3 298.3,345.0 301.7,343.3 305.0,340.0 308.3,339.2 311.7,340.8 315.0,343.7 318.3,348.3 321.7,350.0 325.0,346.7 328.3,339.2 331.7,332.5 335.8,328.3 340.0,324.2 345.0,320.0 350.0,317.5 355.0,315.8 360.0,313.3 365.0,310.0 369.2,305.0 373.3,301.7 378.3,299.2 383.3,297.5 388.3,295.0 393.3,291.7 397.5,285.0 401.7,281.7 404.2,277.5 406.7,273.3 410.0,265.8 414.2,260.8 418.3,257.5 421.7,255.0 425.0,258.3 430.0,257.5 435.0,253.3 440.0,250.0 444.2,246.7 448.3,236.7 451.7,230.0 455.8,227.5 460.0,227.0 465.0,225.0 470.0,222.5 474.2,217.5 477.5,214.2 481.7,210.8 486.7,209.2 491.7,208.3 495.8,205.8 500.0,204.2 505.0,203.3 509.2,200.8 513.3,198.3 517.5,195.8 521.7,193.3 525.8,192.0 530.0,193.7 534.7,191.9 539.3,190.2 544.0,189.0 548.7,186.1 553.3,184.3 558.0,183.8 562.7,182.6 567.3,180.3 572.0,178.5 576.7,178.5 581.3,177.9 586.0,177.3 590.7,177.1 595.3,176.8 600.0,175.0 604.7,172.7 609.3,170.3 614.0,167.4 618.7,166.6 623.3,166.3 625.0,163.9 629.7,163.9 634.3,164.5 639.0,165.1 643.7,163.3 648.3,161.0 653.0,159.3 657.7,159.3 662.3,159.8 667.0,158.7 671.7,157.5 676.3,156.3 681.0,158.7 685.7,158.7 690.3,157.5 695.0,156.3 699.7,156.3 704.3,154.6 707.8,156.3 711.3,157.5 716.0,158.7 720.0,158.7 724.7,156.9 729.3,157.5 734.0,158.1 738.7,158.1 743.3,158.7 748.0,157.5 752.7,157.5 757.3,157.5 762.0,157.5 766.7,156.9 771.3,158.1 776.0,158.7 780.7,159.3 785.3,159.3 790.0,159.8 794.7,160.4 799.3,161.0 804.0,163.9 808.7,163.3 813.3,162.8 815.0,164.2 821.7,166.7 828.3,166.7 835.0,168.3 841.7,168.3 847.5,171.7 852.5,176.7 858.3,179.2 865.0,179.2 870.8,182.5 875.0,185.0 879.2,185.8 883.3,187.5 889.2,189.2 895.0,186.7 900.0,190.0 905.0,193.3 910.0,198.3 916.7,201.7 923.3,205.0 928.3,204.2 935.0,203.3 940.8,209.2 945.8,213.3 951.7,217.5 957.5,221.7 963.3,225.0 969.2,225.0 975.0,225.8 980.8,230.0 985.8,229.2 990.8,232.5 995.0,236.7 1000.8,238.3 1005.0,240.0 1009.2,242.5 1014.2,245.0 1018.3,253.3 1022.5,258.3 1028.3,259.2 1034.2,263.3 1040.0,269.2 1045.8,270.0 1050.0,275.8 1055.0,285.0 1060.8,286.7 1065.8,291.7 1070.8,296.7 1075.8,300.0 1080.0,305.8 1084.2,310.8 1088.3,314.2 1093.3,314.2 1097.8,313.3 1102.3,317.0 1106.0,327.1 1109.7,328.9 1115.2,330.8 1118.9,338.1 1122.5,343.6 1127.1,343.6 1131.7,347.3 1136.3,348.2 1140.9,346.4 1145.5,351.0 1150.0,356.5 1153.7,360.1 1158.3,361.1 1162.9,360.1 1166.6,355.6 1169.3,353.7" stroke="#ff0000" stroke-opacity="0.6" stroke-width="1.7" stroke-dasharray="6.3 5.7" stroke-linecap="round" stroke-linejoin="round"/>
<polyline points="59.2,390.0 62.5,386.7 66.7,383.3 69.2,378.3 73.3,372.5 76.7,376.7 81.7,380.8 85.8,382.5 90.8,384.2 95.0,373.3 99.2,368.3 103.3,369.2 108.3,370.0 113.3,371.7 118.3,373.3 123.3,370.0 128.3,364.2 132.5,355.8 136.7,355.0 140.8,356.7 145.0,363.3 148.3,371.7 150.0,384.2 153.3,391.7 157.5,396.7 161.7,397.5 165.8,400.8 170.0,405.0 174.2,406.7 177.5,407.5 180.8,404.2 184.2,401.7 187.5,402.0 190.8,403.3 195.0,396.7 200.0,393.3 205.0,391.7 209.2,391.7 213.3,395.8 217.5,393.3 221.7,391.7 225.0,385.0 228.3,378.3 231.7,380.0 235.0,381.7 240.0,384.2 244.2,386.7 245.0,386.7 249.2,388.3 254.2,390.8 257.5,385.0 261.7,385.0 265.8,387.5 270.0,385.8 274.2,383.3 277.5,376.7 280.8,371.7 285.0,374.2 289.2,372.5 293.3,368.3 295.8,364.2 298.3,362.5 301.7,359.2 305.0,360.0 308.3,360.0 311.7,358.3 315.0,360.0 318.3,364.2 321.7,365.0 324.2,358.3 326.7,353.3 330.0,351.7 334.2,352.5 337.5,353.3 340.0,348.3 343.3,343.3 346.7,336.7 350.0,333.3 353.3,330.8 356.7,330.0 361.7,331.7 366.7,330.0 371.7,328.3 375.8,329.2 379.2,323.3 381.7,316.7 385.0,311.7 388.3,308.3 391.7,303.3 395.8,299.2 400.0,293.3 404.2,289.2 408.3,285.0 411.7,281.7 415.0,279.2 418.3,273.3 421.7,268.3 425.0,264.0 430.0,260.4 436.2,257.9 439.6,254.2 444.2,250.8 448.3,249.2 453.8,245.4 458.3,242.5 465.0,241.7 469.2,237.5 473.3,233.3 477.5,230.0 481.7,228.3 485.8,225.8 490.0,222.5 494.2,216.7 498.3,213.3 502.5,210.8 506.7,207.5 510.8,205.0 515.0,202.5 520.0,200.8 525.0,199.2 530.0,194.8 534.7,194.3 539.3,193.1 544.0,191.3 548.7,190.8 553.3,190.2 558.0,189.0 562.7,187.8 567.3,187.3 572.0,186.7 576.7,186.1 581.3,185.5 586.0,184.9 590.7,185.5 595.3,184.9 600.0,183.8 604.7,181.4 609.3,180.3 614.0,179.7 618.7,179.1 623.3,177.9 625.0,177.3 629.7,176.8 634.3,175.0 639.0,173.8 643.7,173.3 648.3,173.3 653.0,172.7 657.7,173.3 662.3,173.3 667.0,172.1 671.7,172.7 676.3,171.5 681.0,169.8 685.7,169.2 690.3,169.2 695.0,170.3 699.7,169.8 703.2,170.9 705.5,173.8 709.0,177.3 713.7,176.8 718.3,177.3 720.0,177.3 724.7,178.5 729.3,177.3 734.0,177.1 738.7,177.3 743.3,177.1 748.0,177.1 752.7,172.1 757.3,171.5 762.0,172.1 766.7,171.5 771.3,170.9 776.0,172.1 780.7,173.3 785.3,174.4 790.0,175.0 794.7,175.6 798.2,178.5 801.7,180.8 806.3,182.0 811.0,184.3 814.5,186.1 815.0,187.0 818.3,188.0 823.3,185.8 829.2,184.2 835.0,185.0 841.7,189.2 846.7,190.0 850.0,195.0 855.0,200.8 861.7,203.3 868.3,204.2 875.0,205.0 880.8,207.5 885.0,210.8 890.8,213.3 896.7,215.0 902.5,215.8 905.8,218.3 910.0,224.2 916.7,227.5 921.7,234.2 926.7,238.3 933.3,241.7 940.0,244.2 945.0,246.7 950.0,248.3 955.0,253.3 960.0,256.7 965.0,259.2 970.0,262.5 976.5,273.5 980.5,276.5 984.5,272.5 990.0,272.0 993.0,271.0 995.5,272.5 1000.0,275.0 1003.0,279.0 1006.0,284.0 1009.0,289.5 1014.0,293.0 1018.0,297.0 1021.0,303.0 1024.0,307.5 1025.0,307.5 1030.8,307.5 1036.7,313.3 1041.7,321.7 1047.5,325.0 1055.0,328.3 1060.0,330.0 1065.0,330.0 1067.5,332.5 1071.7,345.0 1075.8,349.2 1080.0,351.7 1084.2,358.3 1088.3,360.8 1092.5,366.7 1097.5,371.7 1098.7,372.1 1103.3,375.7 1106.0,384.9 1109.7,392.2 1114.3,395.9 1119.8,398.7 1124.4,395.0 1128.9,389.5 1133.5,387.7 1139.0,384.9 1143.6,381.2 1147.3,392.2 1150.9,384.9 1155.6,385.8 1160.1,389.5 1163.8,386.7 1166.6,393.1 1169.3,397.7" stroke="#0000ff" stroke-opacity="0.6" stroke-width="1.7" stroke-dasharray="6.3 5.7" stroke-linecap="round" stroke-linejoin="round"/>
<polyline points="59.2,379.2 61.2,386.2 62.5,388.8 65.0,389.3 67.5,390.0 68.8,392.0 70.8,405.0 74.2,413.8 77.1,410.8 80.0,409.6 82.1,412.5 83.8,415.4 87.1,415.7" stroke="#000" stroke-width="2.4" stroke-linejoin="round" stroke-linecap="round"/>
<line x1="59" y1="59" x2="1169.5" y2="59" stroke="#929292" stroke-width="2"/>
<line x1="1169.5" y1="59" x2="1169.5" y2="526" stroke="#555" stroke-width="1.5"/>
<line x1="59" y1="58" x2="59" y2="526" stroke="#666" stroke-width="2"/>
<line x1="58" y1="526.4" x2="1170" y2="526.4" stroke="#000" stroke-width="1.2"/>
<line x1="51" y1="76.5" x2="59" y2="76.5" stroke="#000" stroke-width="1"/>
<text transform="translate(42.2,76.5) rotate(-90) scale(0.88,1)" text-anchor="middle" class="ax">15</text>
<line x1="51" y1="117.3" x2="59" y2="117.3" stroke="#000" stroke-width="1"/>
<text transform="translate(42.2,117.3) rotate(-90) scale(0.88,1)" text-anchor="middle" class="ax">10</text>
<line x1="51" y1="158.1" x2="59" y2="158.1" stroke="#000" stroke-width="1"/>
<text transform="translate(42.2,158.1) rotate(-90) scale(0.88,1)" text-anchor="middle" class="ax">5</text>
<line x1="51" y1="198.9" x2="59" y2="198.9" stroke="#000" stroke-width="1"/>
<text transform="translate(42.2,198.9) rotate(-90) scale(0.88,1)" text-anchor="middle" class="ax">0</text>
<line x1="51" y1="239.7" x2="59" y2="239.7" stroke="#000" stroke-width="1"/>
<text transform="translate(42.2,239.7) rotate(-90) scale(0.88,1)" text-anchor="middle" class="ax">-5</text>
<line x1="51" y1="280.5" x2="59" y2="280.5" stroke="#000" stroke-width="1"/>
<text transform="translate(42.2,280.5) rotate(-90) scale(0.88,1)" text-anchor="middle" class="ax">-10</text>
<line x1="51" y1="321.3" x2="59" y2="321.3" stroke="#000" stroke-width="1"/>
<text transform="translate(42.2,321.3) rotate(-90) scale(0.88,1)" text-anchor="middle" class="ax">-15</text>
<line x1="51" y1="362.1" x2="59" y2="362.1" stroke="#000" stroke-width="1"/>
<text transform="translate(42.2,362.1) rotate(-90) scale(0.88,1)" text-anchor="middle" class="ax">-20</text>
<line x1="51" y1="403.0" x2="59" y2="403.0" stroke="#000" stroke-width="1"/>
<text transform="translate(42.2,403.0) rotate(-90) scale(0.88,1)" text-anchor="middle" class="ax">-25</text>
<line x1="51" y1="443.8" x2="59" y2="443.8" stroke="#000" stroke-width="1"/>
<text transform="translate(42.2,443.8) rotate(-90) scale(0.88,1)" text-anchor="middle" class="ax">-30</text>
<line x1="51" y1="484.6" x2="59" y2="484.6" stroke="#000" stroke-width="1"/>
<text transform="translate(42.2,484.6) rotate(-90) scale(0.88,1)" text-anchor="middle" class="ax">-35</text>
<line x1="51" y1="525.4" x2="59" y2="525.4" stroke="#000" stroke-width="1"/>
<text transform="translate(42.2,525.4) rotate(-90) scale(0.88,1)" text-anchor="middle" class="ax">-40</text>
<path d="M59.00 526V534 M62.05 526V534 M65.10 526V534 M68.15 526V534 M71.20 526V534 M74.25 526V534 M77.30 526V534 M80.36 526V534 M83.41 526V534 M86.46 526V534 M89.51 526V534 M92.56 526V534 M95.61 526V534 M98.66 526V534 M101.71 526V534 M104.76 526V534 M107.81 526V534 M110.86 526V534 M113.91 526V534 M116.97 526V534 M120.02 526V534 M123.07 526V534 M126.12 526V534 M129.17 526V534 M132.22 526V534 M135.27 526V534 M138.32 526V534 M141.37 526V534 M144.42 526V534 M147.47 526V534 M150.52 526V534 M153.57 526V534 M156.63 526V534 M159.68 526V534 M162.73 526V534 M165.78 526V534 M168.83 526V534 M171.88 526V534 M174.93 526V534 M177.98 526V534 M181.03 526V534 M184.08 526V534 M187.13 526V534 M190.18 526V534 M193.24 526V534 M196.29 526V534 M199.34 526V534 M202.39 526V534 M205.44 526V534 M208.49 526V534 M211.54 526V534 M214.59 526V534 M217.64 526V534 M220.69 526V534 M223.74 526V534 M226.79 526V534 M229.84 526V534 M232.90 526V534 M235.95 526V534 M239.00 526V534 M242.05 526V534 M245.10 526V534 M248.15 526V534 M251.20 526V534 M254.25 526V534 M257.30 526V534 M260.35 526V534 M263.40 526V534 M266.45 526V534 M269.51 526V534 M272.56 526V534 M275.61 526V534 M278.66 526V534 M281.71 526V534 M284.76 526V534 M287.81 526V534 M290.86 526V534 M293.91 526V534 M296.96 526V534 M300.01 526V534 M303.06 526V534 M306.11 526V534 M309.17 526V534 M312.22 526V534 M315.27 526V534 M318.32 526V534 M321.37 526V534 M324.42 526V534 M327.47 526V534 M330.52 526V534 M333.57 526V534 M336.62 526V534 M339.67 526V534 M342.72 526V534 M345.78 526V534 M348.83 526V534 M351.88 526V534 M354.93 526V534 M357.98 526V534 M361.03 526V534 M364.08 526V534 M367.13 526V534 M370.18 526V534 M373.23 526V534 M376.28 526V534 M379.33 526V534 M382.38 526V534 M385.44 526V534 M388.49 526V534 M391.54 526V534 M394.59 526V534 M397.64 526V534 M400.69 526V534 M403.74 526V534 M406.79 526V534 M409.84 526V534 M412.89 526V534 M415.94 526V534 M418.99 526V534 M422.05 526V534 M425.10 526V534 M428.15 526V534 M431.20 526V534 M434.25 526V534 M437.30 526V534 M440.35 526V534 M443.40 526V534 M446.45 526V534 M449.50 526V534 M452.55 526V534 M455.60 526V534 M458.65 526V534 M461.71 526V534 M464.76 526V534 M467.81 526V534 M470.86 526V534 M473.91 526V534 M476.96 526V534 M480.01 526V534 M483.06 526V534 M486.11 526V534 M489.16 526V534 M492.21 526V534 M495.26 526V534 M498.32 526V534 M501.37 526V534 M504.42 526V534 M507.47 526V534 M510.52 526V534 M513.57 526V534 M516.62 526V534 M519.67 526V534 M522.72 526V534 M525.77 526V534 M528.82 526V534 M531.87 526V534 M534.92 526V534 M537.98 526V534 M541.03 526V534 M544.08 526V534 M547.13 526V534 M550.18 526V534 M553.23 526V534 M556.28 526V534 M559.33 526V534 M562.38 526V534 M565.43 526V534 M568.48 526V534 M571.53 526V534 M574.59 526V534 M577.64 526V534 M580.69 526V534 M583.74 526V534 M586.79 526V534 M589.84 526V534 M592.89 526V534 M595.94 526V534 M598.99 526V534 M602.04 526V534 M605.09 526V534 M608.14 526V534 M611.19 526V534 M614.25 526V534 M617.30 526V534 M620.35 526V534 M623.40 526V534 M626.45 526V534 M629.50 526V534 M632.55 526V534 M635.60 526V534 M638.65 526V534 M641.70 526V534 M644.75 526V534 M647.80 526V534 M650.86 526V534 M653.91 526V534 M656.96 526V534 M660.01 526V534 M663.06 526V534 M666.11 526V534 M669.16 526V534 M672.21 526V534 M675.26 526V534 M678.31 526V534 M681.36 526V534 M684.41 526V534 M687.46 526V534 M690.52 526V534 M693.57 526V534 M696.62 526V534 M699.67 526V534 M702.72 526V534 M705.77 526V534 M708.82 526V534 M711.87 526V534 M714.92 526V534 M717.97 526V534 M721.02 526V534 M724.07 526V534 M727.13 526V534 M730.18 526V534 M733.23 526V534 M736.28 526V534 M739.33 526V534 M742.38 526V534 M745.43 526V534 M748.48 526V534 M751.53 526V534 M754.58 526V534 M757.63 526V534 M760.68 526V534 M763.73 526V534 M766.79 526V534 M769.84 526V534 M772.89 526V534 M775.94 526V534 M778.99 526V534 M782.04 526V534 M785.09 526V534 M788.14 526V534 M791.19 526V534 M794.24 526V534 M797.29 526V534 M800.34 526V534 M803.40 526V534 M806.45 526V534 M809.50 526V534 M812.55 526V534 M815.60 526V534 M818.65 526V534 M821.70 526V534 M824.75 526V534 M827.80 526V534 M830.85 526V534 M833.90 526V534 M836.95 526V534 M840.00 526V534 M843.06 526V534 M846.11 526V534 M849.16 526V534 M852.21 526V534 M855.26 526V534 M858.31 526V534 M861.36 526V534 M864.41 526V534 M867.46 526V534 M870.51 526V534 M873.56 526V534 M876.61 526V534 M879.67 526V534 M882.72 526V534 M885.77 526V534 M888.82 526V534 M891.87 526V534 M894.92 526V534 M897.97 526V534 M901.02 526V534 M904.07 526V534 M907.12 526V534 M910.17 526V534 M913.22 526V534 M916.27 526V534 M919.33 526V534 M922.38 526V534 M925.43 526V534 M928.48 526V534 M931.53 526V534 M934.58 526V534 M937.63 526V534 M940.68 526V534 M943.73 526V534 M946.78 526V534 M949.83 526V534 M952.88 526V534 M955.94 526V534 M958.99 526V534 M962.04 526V534 M965.09 526V534 M968.14 526V534 M971.19 526V534 M974.24 526V534 M977.29 526V534 M980.34 526V534 M983.39 526V534 M986.44 526V534 M989.49 526V534 M992.54 526V534 M995.60 526V534 M998.65 526V534 M1001.70 526V534 M1004.75 526V534 M1007.80 526V534 M1010.85 526V534 M1013.90 526V534 M1016.95 526V534 M1020.00 526V534 M1023.05 526V534 M1026.10 526V534 M1029.15 526V534 M1032.21 526V534 M1035.26 526V534 M1038.31 526V534 M1041.36 526V534 M1044.41 526V534 M1047.46 526V534 M1050.51 526V534 M1053.56 526V534 M1056.61 526V534 M1059.66 526V534 M1062.71 526V534 M1065.76 526V534 M1068.81 526V534 M1071.87 526V534 M1074.92 526V534 M1077.97 526V534 M1081.02 526V534 M1084.07 526V534 M1087.12 526V534 M1090.17 526V534 M1093.22 526V534 M1096.27 526V534 M1099.32 526V534 M1102.37 526V534 M1105.42 526V534 M1108.48 526V534 M1111.53 526V534 M1114.58 526V534 M1117.63 526V534 M1120.68 526V534 M1123.73 526V534 M1126.78 526V534 M1129.83 526V534 M1132.88 526V534 M1135.93 526V534 M1138.98 526V534 M1142.03 526V534 M1145.08 526V534 M1148.14 526V534 M1151.19 526V534 M1154.24 526V534 M1157.29 526V534 M1160.34 526V534 M1163.39 526V534 M1166.44 526V534 M1169.49 526V534" stroke="#000" stroke-width="1"/>
<text transform="translate(59.00,552.5) scale(0.78,1)" text-anchor="middle" class="xl">sty 01</text>
<text transform="translate(89.51,552.5) scale(0.78,1)" text-anchor="middle" class="xl">sty 11</text>
<text transform="translate(120.02,552.5) scale(0.78,1)" text-anchor="middle" class="xl">sty 21</text>
<text transform="translate(150.52,552.5) scale(0.78,1)" text-anchor="middle" class="xl">sty 31</text>
<text transform="translate(181.03,552.5) scale(0.78,1)" text-anchor="middle" class="xl">lut 10</text>
<text transform="translate(211.54,552.5) scale(0.78,1)" text-anchor="middle" class="xl">lut 20</text>
<text transform="translate(245.10,552.5) scale(0.78,1)" text-anchor="middle" class="xl">mar 03</text>
<text transform="translate(281.71,552.5) scale(0.78,1)" text-anchor="middle" class="xl">mar 15</text>
<text transform="translate(318.32,552.5) scale(0.78,1)" text-anchor="middle" class="xl">mar 27</text>
<text transform="translate(351.88,552.5) scale(0.78,1)" text-anchor="middle" class="xl">kwi 07</text>
<text transform="translate(385.44,552.5) scale(0.78,1)" text-anchor="middle" class="xl">kwi 18</text>
<text transform="translate(418.99,552.5) scale(0.78,1)" text-anchor="middle" class="xl">kwi 29</text>
<text transform="translate(452.55,552.5) scale(0.78,1)" text-anchor="middle" class="xl">maj 10</text>
<text transform="translate(486.11,552.5) scale(0.78,1)" text-anchor="middle" class="xl">maj 21</text>
<text transform="translate(519.67,552.5) scale(0.78,1)" text-anchor="middle" class="xl">cze 01</text>
<text transform="translate(553.23,552.5) scale(0.78,1)" text-anchor="middle" class="xl">cze 12</text>
<text transform="translate(586.79,552.5) scale(0.78,1)" text-anchor="middle" class="xl">cze 23</text>
<text transform="translate(617.30,552.5) scale(0.78,1)" text-anchor="middle" class="xl">lip 03</text>
<text transform="translate(647.80,552.5) scale(0.78,1)" text-anchor="middle" class="xl">lip 13</text>
<text transform="translate(678.31,552.5) scale(0.78,1)" text-anchor="middle" class="xl">lip 23</text>
<text transform="translate(708.82,552.5) scale(0.78,1)" text-anchor="middle" class="xl">sie 02</text>
<text transform="translate(739.33,552.5) scale(0.78,1)" text-anchor="middle" class="xl">sie 12</text>
<text transform="translate(769.84,552.5) scale(0.78,1)" text-anchor="middle" class="xl">sie 22</text>
<text transform="translate(803.40,552.5) scale(0.78,1)" text-anchor="middle" class="xl">wrz 02</text>
<text transform="translate(836.95,552.5) scale(0.78,1)" text-anchor="middle" class="xl">wrz 13</text>
<text transform="translate(870.51,552.5) scale(0.78,1)" text-anchor="middle" class="xl">wrz 24</text>
<text transform="translate(904.07,552.5) scale(0.78,1)" text-anchor="middle" class="xl">paź 05</text>
<text transform="translate(937.63,552.5) scale(0.78,1)" text-anchor="middle" class="xl">paź 16</text>
<text transform="translate(971.19,552.5) scale(0.78,1)" text-anchor="middle" class="xl">paź 27</text>
<text transform="translate(1001.70,552.5) scale(0.78,1)" text-anchor="middle" class="xl">lis 06</text>
<text transform="translate(1029.15,552.5) scale(0.78,1)" text-anchor="middle" class="xl">lis 15</text>
<text transform="translate(1056.61,552.5) scale(0.78,1)" text-anchor="middle" class="xl">lis 24</text>
<text transform="translate(1087.12,552.5) scale(0.78,1)" text-anchor="middle" class="xl">gru 04</text>
<text transform="translate(1120.68,552.5) scale(0.78,1)" text-anchor="middle" class="xl">gru 15</text>
<text transform="translate(1154.24,552.5) scale(0.78,1)" text-anchor="middle" class="xl">gru 26</text>
<line x1="96.8" y1="82.4" x2="151.8" y2="82.4" stroke="#000" stroke-width="2.4" stroke-linecap="round"/>
<text x="162.2" y="86.9" class="lg">2022</text>
<line x1="96.8" y1="96.8" x2="151.8" y2="96.8" stroke="#8585ff" stroke-width="1.2"/>
<text x="162.2" y="101.3" class="lg">1981-1990</text>
<line x1="96.8" y1="111.2" x2="151.8" y2="111.2" stroke="#3a7a3a" stroke-width="1.1"/>
<text x="162.2" y="115.7" class="lg">1991-2000</text>
<line x1="96.8" y1="125.6" x2="151.8" y2="125.6" stroke="#ffdf55" stroke-width="1.2"/>
<text x="162.2" y="130.1" class="lg">2001-2010</text>
<line x1="96.8" y1="140.0" x2="151.8" y2="140.0" stroke="#ff7f7f" stroke-width="1.2"/>
<text x="162.2" y="144.5" class="lg">2011-2020</text>
<line x1="97.5" y1="154.4" x2="151.5" y2="154.4" stroke="#ff0000" stroke-width="1.9" stroke-dasharray="6.2 5.8" stroke-linecap="round"/>
<text x="162.2" y="158.9" class="lg">1991-2020</text>
<line x1="96.8" y1="168.8" x2="151.8" y2="168.8" stroke="#2020ff" stroke-width="1.9" stroke-dasharray="7.4 4.6"/>
<text x="162.2" y="173.3" class="lg">1951-1980</text>
<line x1="97.5" y1="183.2" x2="150" y2="183.2" stroke="#e5e5e5" stroke-width="5.5" stroke-linecap="round"/>
<text x="162.2" y="187.7" class="lg">max-min 1950-2021</text>
<text x="58.3" y="19" class="t1">Przebieg temperatury w roku 2026</text>
<text x="58" y="40" class="t1">Region: Morze Czukockie</text>
<text x="1174.5" y="19.3" text-anchor="end" class="t1">Dane: Reanaliza ERA5 (ECMWF)</text>
<text x="1159" y="37.7" text-anchor="end" class="t3">Wizualizacja: Meteomodel.pl</text>
<text x="614" y="53.3" text-anchor="middle" class="t2">Ostatnie dane: 2026-01-10 (-26.6°C, anomalia (1981-2010): -5.7°C)</text>
<text x="614.6" y="580.8" text-anchor="middle" class="at" letter-spacing="0.6">Data</text>
<text transform="translate(13.4,292.8) rotate(-90)" text-anchor="middle" class="at" style="font-size:12.2px">Temperatura</text>
</svg></body></html>
